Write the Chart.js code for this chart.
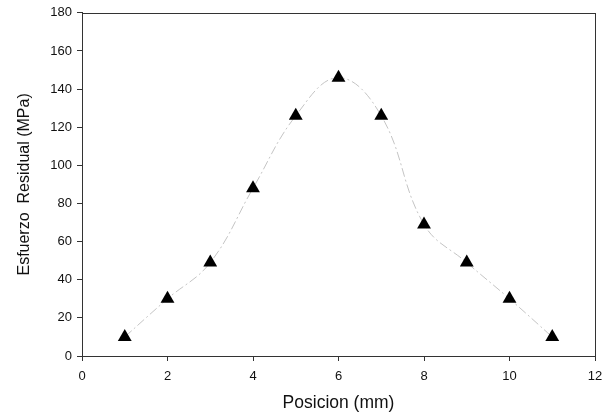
<!DOCTYPE html>
<html>
<head>
<meta charset="utf-8">
<script src="https://cdn.jsdelivr.net/npm/chart.js@4"></script>
<style>
  html, body { margin: 0; padding: 0; background: #fff; }
  #wrap { width: 611px; height: 414px; }
</style>
</head>
<body>
<div id="wrap"><canvas id="c" width="611" height="414"></canvas></div>
<script>
// --- データ ---
const posiciones = [1, 2, 3, 4, 5, 6, 7, 8, 9, 10, 11];
const esfuerzos  = [10, 30, 49, 88, 126, 146, 126, 69, 49, 30, 10];
const xTicks = [0, 2, 4, 6, 8, 10, 12];
const yTicks = [0, 20, 40, 60, 80, 100, 120, 140, 160, 180];

const family = '"Liberation Sans", Arial, sans-serif';
const tickFont  = { family, size: 13 };
const axisColor = '#333';
const textColor = '#111';

// 枠線 (上・右も含む)
const boxPlugin = {
    id: 'box',
    afterDatasetsDraw(chart) {
        const a = chart.chartArea;
        const ctx = chart.ctx;
        ctx.save();
        ctx.strokeStyle = axisColor;
        ctx.lineWidth = 1;
        ctx.strokeRect(Math.round(a.left) + 0.5, Math.round(a.top) + 0.5,
                       Math.round(a.right - a.left), Math.round(a.bottom - a.top));
        ctx.restore();
    }
};

new Chart(document.getElementById('c'), {
    type: 'line',
    data: {
        datasets: [{
            data: posiciones.map((x, i) => ({ x, y: esfuerzos[i] })),
            borderColor: '#c4c4c4',
            borderWidth: 1,
            borderDash: [9, 3, 2, 3],
            tension: 0.4,
            pointStyle: 'triangle',
            pointRadius: 8,
            pointBackgroundColor: '#000',
            pointBorderColor: '#000',
            pointBorderWidth: 0,
            fill: false
        }]
    },
    options: {
        responsive: false,
        animation: false,
        layout: { padding: { left: 0, right: 16, top: 10, bottom: 0 } },
        plugins: { legend: { display: false }, tooltip: { enabled: false } },
        scales: {
            x: {
                type: 'linear', min: 0, max: 12,
                afterBuildTicks: s => { s.ticks = xTicks.map(v => ({ value: v })); },
                afterFit: s => { s.height = 58; },
                grid: { drawOnChartArea: false, tickLength: 5, color: axisColor },
                border: { color: axisColor },
                ticks: { color: textColor, font: tickFont, padding: 8, maxRotation: 0 },
                title: { display: true, text: 'Posicion (mm)', color: textColor,
                         font: { family, size: 17.5 }, padding: { top: 4, bottom: 0 } }
            },
            y: {
                type: 'linear', min: 0, max: 180,
                afterBuildTicks: s => { s.ticks = yTicks.map(v => ({ value: v })); },
                afterFit: s => { s.width = 82; },
                grid: { drawOnChartArea: false, tickLength: 5, color: axisColor },
                border: { color: axisColor },
                ticks: { color: textColor, font: tickFont, padding: 5 },
                title: { display: true, text: 'Esfuerzo  Residual (MPa)', color: textColor,
                         font: { family, size: 16 }, padding: { top: 15, bottom: 4 } }
            }
        }
    },
    plugins: [boxPlugin]
});
</script>
</body>
</html>
